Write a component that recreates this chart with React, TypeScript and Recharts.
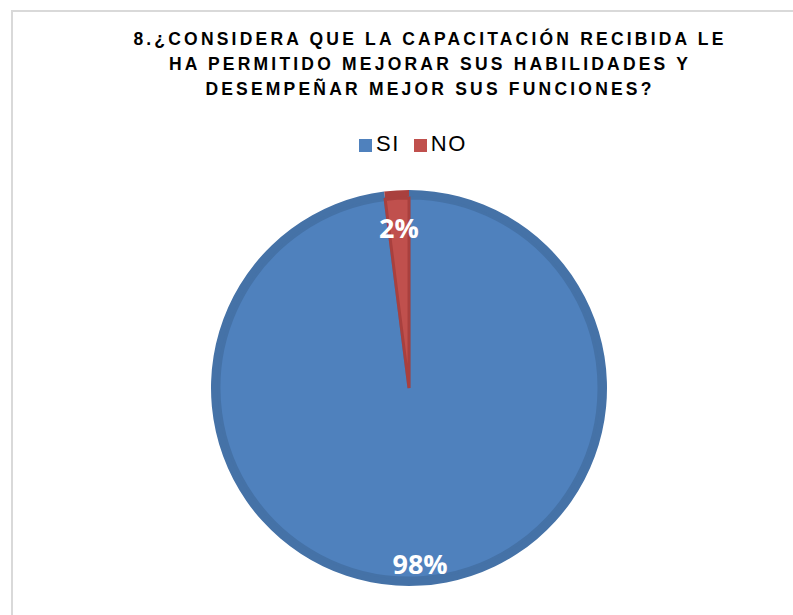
import { PieChart, Pie, Cell, Legend } from "recharts";

const categories = ["SI", "NO"];
const values = [98, 2];
const fills = ["#4F81BD", "#C0504D"];
const rims = ["#4572A7", "#A9403E"];
const titleLines = [
  "8.¿CONSIDERA QUE LA CAPACITACIÓN RECIBIDA LE",
  "HA PERMITIDO MEJORAR SUS HABILIDADES Y",
  "DESEMPEÑAR MEJOR SUS FUNCIONES?",
];

const data = categories.map((name, i) => ({ name, value: values[i] }));
const RAD = Math.PI / 180;

function renderLabel(props: any) {
  const { cx, cy, midAngle, outerRadius, index, percent } = props;
  const r = outerRadius - (index === 0 ? 14 : 29);
  const x = cx + r * Math.cos(-midAngle * RAD);
  const y = cy + r * Math.sin(-midAngle * RAD);
  return (
    <text
      x={x}
      y={y}
      fill="#fff"
      textAnchor="middle"
      dominantBaseline="central"
      style={{ fontFamily: "'Open Sans', sans-serif", fontWeight: 700, fontSize: 27 }}
    >
      {`${Math.round(percent * 100)}%`}
    </text>
  );
}

export default function App() {
  return (
    <div style={{ position: "absolute", left: 0, top: 0, width: 793, height: 615, background: "#fff", overflow: "hidden" }}>
      <div style={{ position: "absolute", left: 11, top: 10, width: 800, height: 620, borderLeft: "2px solid #d9d9d9", borderTop: "2px solid #d9d9d9" }} />
      <div
        style={{
          position: "absolute",
          left: 0,
          top: 27,
          width: 860,
          textAlign: "center",
          fontFamily: "'Liberation Sans', Arial, sans-serif",
          fontWeight: 700,
          fontSize: 17.5,
          lineHeight: "25px",
          letterSpacing: 3.2,
          color: "#000",
        }}
      >
        {titleLines.map((t) => (
          <div key={t}>{t}</div>
        ))}
      </div>
      <PieChart
        width={793}
        height={615}
        margin={{ top: 0, right: 0, bottom: 0, left: 0 }}
        style={{ position: "absolute", left: 0, top: 0 }}
      >
        <Legend
          verticalAlign="middle"
          align="right"
          layout="horizontal"
          iconType="square"
          iconSize={13}
          itemSorter={(item: any) => categories.indexOf(item.value)}
          wrapperStyle={{
            top: 131,
            left: 359,
            right: "auto",
            width: "auto",
            fontFamily: "'Liberation Sans', Arial, sans-serif",
            fontSize: 22,
          }}
          formatter={(v: string) => (
            <span style={{ color: "#000", letterSpacing: 1.5, marginRight: 4 }}>{v}</span>
          )}
        />
        <Pie
          data={data}
          dataKey="value"
          nameKey="name"
          cx={409}
          cy={388}
          outerRadius={198}
          startAngle={90}
          endAngle={-270}
          stroke="none"
          legendType="none"
          isAnimationActive={false}
        >
          {data.map((d, i) => (
            <Cell key={d.name} fill={rims[i]} />
          ))}
        </Pie>
        <Pie
          data={data}
          dataKey="value"
          nameKey="name"
          cx={409}
          cy={388}
          outerRadius={190}
          startAngle={90}
          endAngle={-270}
          strokeWidth={3}
          label={renderLabel}
          labelLine={false}
          isAnimationActive={false}
        >
          {data.map((d, i) => (
            <Cell key={d.name} fill={fills[i]} stroke={rims[i]} />
          ))}
        </Pie>
      </PieChart>
    </div>
  );
}
